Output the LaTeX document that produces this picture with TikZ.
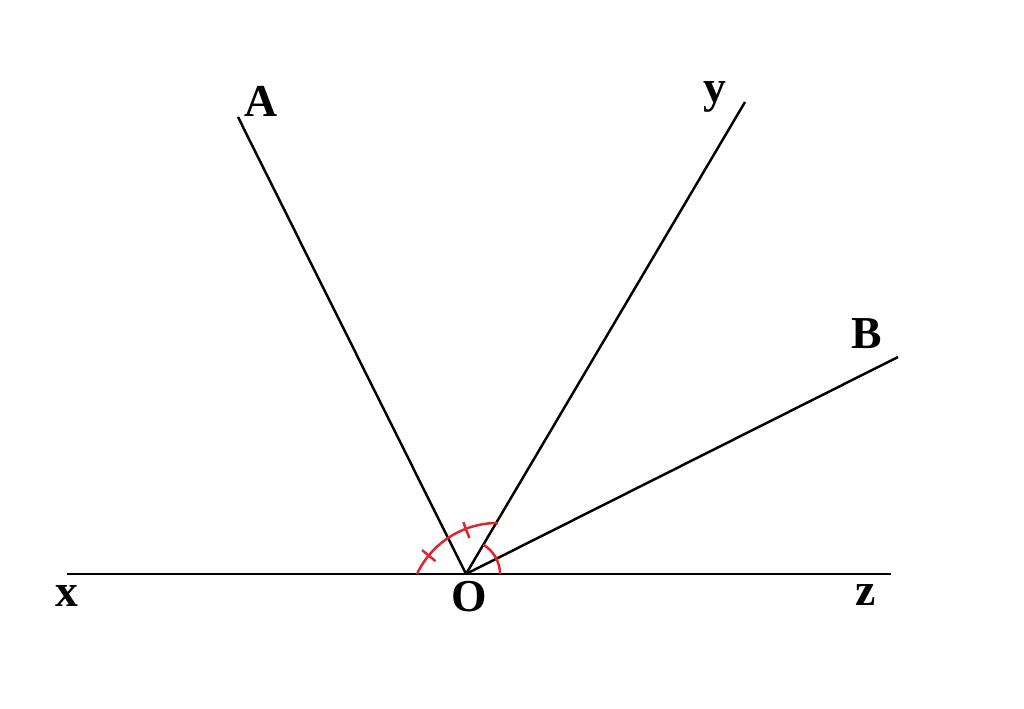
\documentclass[tikz,border=0pt]{standalone}
\usepackage{fontspec}
\setmainfont{Liberation Serif}
\begin{document}
\begin{tikzpicture}[x=0.02cm,y=0.02cm,
  ray/.style={line width=1.4pt,black},
  redarc/.style={line width=1.4pt,draw={rgb,255:red,225;green,35;blue,45}},
  lab/.style={font=\fontsize{26}{30}\selectfont\bfseries,anchor=base,inner sep=0pt}]
\useasboundingbox (0,0) rectangle (1024,709);
\coordinate (O) at (466,135);
\coordinate (X) at (67,135);
\coordinate (Z) at (891,135);
\coordinate (A) at (238,592);
\coordinate (Y) at (745,607);
\coordinate (B) at (898,352);
\coordinate (C) at (497.4,97.1);
\draw[ray] (X) -- (Z);
\draw[ray] (O) -- (A);
\draw[ray] (O) -- (Y);
\draw[ray] (O) -- (B);
\draw[redarc] ([shift={(154.8:1.778cm)}]C) arc[start angle=154.8,end angle=89.6,radius=1.778cm];
\draw[redarc] ([shift={(140.65:1.60cm)}]C) -- ([shift={(140.65:1.95cm)}]C);
\draw[redarc] ([shift={(110.8:1.58cm)}]C) -- ([shift={(110.8:1.92cm)}]C);
\draw[redarc] ([shift={(0:0.68cm)}]O) arc[start angle=0,end angle=59.4,radius=0.68cm];
\node[lab] (lA) at (261,592) {A};
\node[lab] (lY) at (715,606) {y};
\node[lab] (lB) at (867,360) {B};
\node[lab] (lX) at (66.5,102) {x};
\node[lab] (lO) at (469,97) {O};
\node[lab] (lZ) at (866,103) {z};
\end{tikzpicture}
\end{document}
